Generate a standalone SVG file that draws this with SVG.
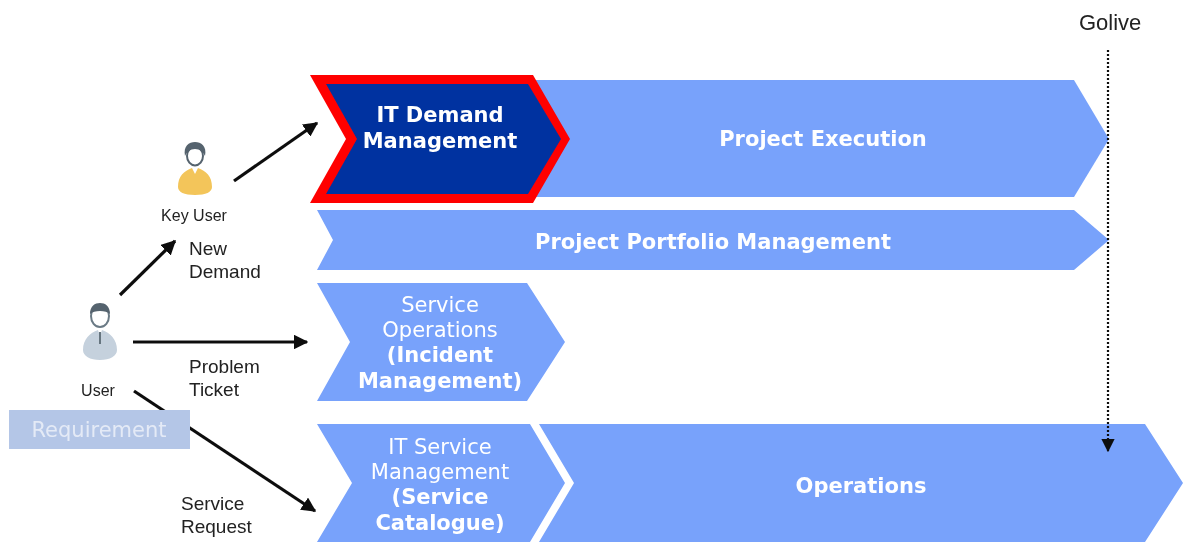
<svg xmlns="http://www.w3.org/2000/svg" width="1183" height="542" viewBox="0 0 1183 542">
<style>
.shape{fill:#78a2fb}
.v{font-family:"DejaVu Sans",Verdana,sans-serif;fill:#fff;text-anchor:middle;font-size:21px}
.b{font-weight:bold}
.l{font-family:"Liberation Sans",Arial,sans-serif;fill:#222;font-size:19px}
.c{fill:none;stroke:#111;stroke-width:3.2}
</style>
<defs>
<filter id="soft" x="-2%" y="-2%" width="104%" height="104%"><feGaussianBlur stdDeviation="0.7"/></filter>
<marker id="ah" viewBox="0 0 10 10" refX="9" refY="5" markerWidth="4.6" markerHeight="4.6" orient="auto"><path d="M0 0L10 5L0 10Z" fill="#111"/></marker>
<marker id="ah2" viewBox="0 0 10 10" refX="9" refY="5" markerWidth="6" markerHeight="6" orient="auto"><path d="M0 0L10 5L0 10Z" fill="#111"/></marker>
</defs>
<rect width="1183" height="542" fill="#fff"/>
<g filter="url(#soft)">
<g id="project-execution"><polygon class="shape" points="530,80 1074,80 1109,139 1074,197 530,197"/><text class="v b" x="823" y="146">Project Execution</text></g>
<g id="it-demand-management"><polygon fill="#f00" points="310,75 533,75 570,139 533,203 310,203 346,139"/><polygon fill="#0033a0" points="326,84 528,84 561,139 528,194 326,194 357,139"/><text class="v b" x="440" y="122">IT Demand</text><text class="v b" x="440" y="148">Management</text></g>
<g id="project-portfolio-management"><polygon class="shape" points="317,210 1074,210 1109,240 1074,270 317,270 333,240"/><text class="v b" x="713" y="249">Project Portfolio Management</text></g>
<g id="service-operations"><polygon class="shape" points="317,283 527,283 565,342 527,401 317,401 350,342"/><text class="v" x="440" y="312">Service</text><text class="v" x="440" y="337">Operations</text><text class="v b" x="440" y="362">(Incident</text><text class="v b" x="440" y="388">Management)</text></g>
<g id="it-service-management"><polygon class="shape" points="317,424 530,424 565,483 530,542 317,542 352,483"/><text class="v" x="440" y="454">IT Service</text><text class="v" x="440" y="479">Management</text><text class="v b" x="440" y="504">(Service</text><text class="v b" x="440" y="530">Catalogue)</text></g>
<g id="operations"><polygon class="shape" points="539,424 1145,424 1183,483 1145,542 539,542 574,483"/><text class="v b" x="861" y="493">Operations</text></g>
<g id="connectors">
<line class="c" x1="234" y1="181" x2="317" y2="123" marker-end="url(#ah)"/>
<line class="c" x1="120" y1="295" x2="175" y2="241" marker-end="url(#ah)"/>
<line class="c" x1="133" y1="342" x2="307" y2="342" marker-end="url(#ah)"/>
<line class="c" x1="134" y1="391" x2="315" y2="511" marker-end="url(#ah)"/>
<line x1="1108" y1="50" x2="1108" y2="451" fill="none" stroke="#111" stroke-width="2.2" stroke-dasharray="2 2" marker-end="url(#ah2)"/>
</g>
<g id="key-user">
<path fill="#f3c55a" d="M178 187C178 176 184 171 192 168L195 174L198 168C206 171 212 176 212 187C212 192 206 195 195 195C184 195 178 192 178 187Z"/>
<ellipse cx="195" cy="156" rx="8" ry="9.5" fill="#fff" stroke="#55636e" stroke-width="2"/>
<path fill="#55636e" d="M185 156C183 146 189 142 195 142C201 142 207 146 205 156C203 152 200 149 195 149C190 149 187 152 185 156Z"/>
<text class="l" x="194" y="221" text-anchor="middle" style="font-size:16px">Key User</text>
</g>
<g id="user">
<path fill="#c5d1dd" d="M83 350C83 339 90 333 98 330L100 336L102 330C110 333 117 339 117 350C117 356 110 360 100 360C90 360 83 356 83 350Z"/>
<line x1="100" y1="332" x2="100" y2="344" stroke="#66757f" stroke-width="2"/>
<ellipse cx="100" cy="316" rx="9" ry="11" fill="#fff" stroke="#6b7a85" stroke-width="2"/>
<path fill="#55636e" d="M90 314C90 306 95 303 100 303C105 303 110 306 110 314C106 310 94 310 90 314Z"/>
<text class="l" x="98" y="396" text-anchor="middle" style="font-size:16px">User</text>
</g>
<g id="requirement"><rect x="9" y="410" width="181" height="39" fill="#b4c6e7"/><text x="99" y="437" text-anchor="middle" font-family="'DejaVu Sans',sans-serif" font-size="21" fill="#e4eaf6">Requirement</text></g>
<g id="labels">
<text class="l" x="189" y="255">New</text><text class="l" x="189" y="278">Demand</text>
<text class="l" x="189" y="373">Problem</text><text class="l" x="189" y="396">Ticket</text>
<text class="l" x="181" y="510">Service</text><text class="l" x="181" y="533">Request</text>
<text class="l" x="1079" y="30" style="font-size:22px">Golive</text>
</g>
</g>
</svg>
